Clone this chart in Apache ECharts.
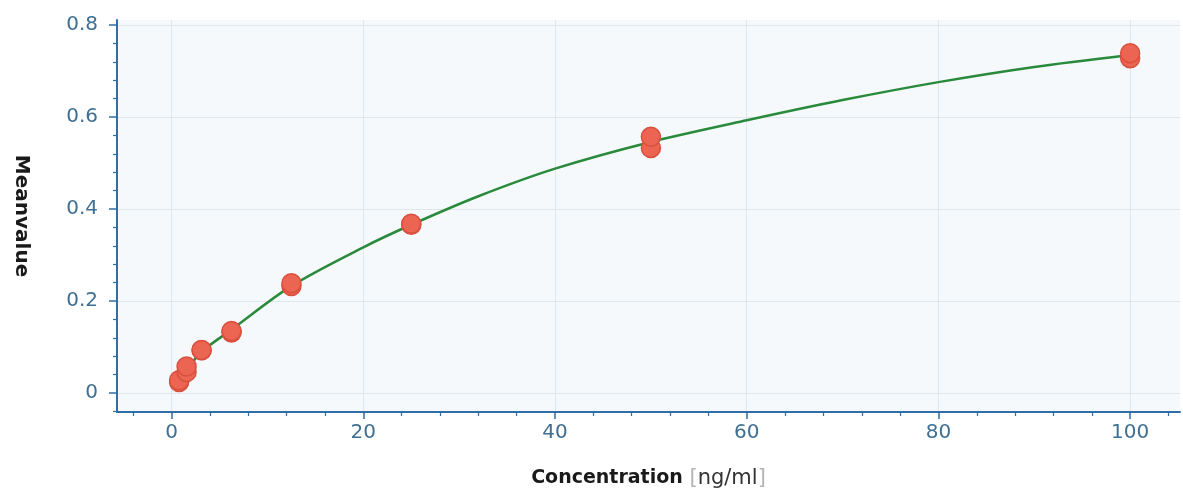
<!DOCTYPE html>
<html>
<head>
<meta charset="utf-8">
<script src="https://cdn.jsdelivr.net/npm/echarts@6/dist/echarts.min.js"></script>
<style>html,body{margin:0;padding:0;background:#fff}#c{width:1183px;height:491px}</style>
</head>
<body>
<div id="c"></div>
<script>
// Measured points (concentration ng/ml, mean value) - duplicates per standard
var pointConc = [0.78, 0.78, 1.56, 1.56, 3.125, 3.125, 6.25, 6.25, 12.5, 12.5, 25, 25, 50, 50, 100, 100];
var pointVals = [0.024, 0.028, 0.046, 0.058, 0.093, 0.094, 0.132, 0.135, 0.233, 0.239, 0.366, 0.368, 0.533, 0.557, 0.728, 0.739];
// Fitted curve
var curveConc = [0.78, 1.56, 3.125, 6.25, 12.5, 20, 25, 32, 40, 50, 60, 70, 80, 90, 100];
var curveVals = [0.028, 0.050, 0.090, 0.138, 0.233, 0.317, 0.366, 0.428, 0.488, 0.546, 0.593, 0.637, 0.676, 0.709, 0.735];
// Tick values
var xMajorTicks = [0, 20, 40, 60, 80, 100];
var xMinorTicks = [-4, 4, 8, 12, 16, 24, 28, 32, 36, 44, 48, 52, 56, 64, 68, 72, 76, 84, 88, 92, 96, 104];
var yMajorTicks = [0, 0.2, 0.4, 0.6, 0.8];
var yMinorTicks = [-0.04, 0.04, 0.08, 0.12, 0.16, 0.24, 0.28, 0.32, 0.36, 0.44, 0.48, 0.52, 0.56, 0.64, 0.68, 0.72, 0.76];

var xMin = -5.7, xMax = 105.2, yMin = -0.041, yMax = 0.811;
var axisColor = '#2f6ea6';
var labelColor = '#3f6f92';
var font = 'DejaVu Sans';

var pts = pointConc.map(function (c, i) { return [c, pointVals[i]]; });
var curve = curveConc.map(function (c, i) { return [c, curveVals[i]]; });

var chart = echarts.init(document.getElementById('c'), null, {renderer: 'canvas'});
chart.setOption({
  animation: false,
  backgroundColor: '#ffffff',
  grid: {left: 117, right: 3, top: 20, bottom: 79, show: true, backgroundColor: '#f6f9fb', borderWidth: 0,
    containLabel: false, outerBoundsMode: 'none'},
  xAxis: [{
    type: 'value', min: xMin, max: xMax,
    axisLine: {show: true, onZero: false, lineStyle: {color: axisColor, width: 2}},
    axisTick: {show: true, customValues: xMajorTicks, length: 7, lineStyle: {color: axisColor, width: 1.5}},
    axisLabel: {customValues: xMajorTicks, color: labelColor, fontFamily: font, fontSize: 20, margin: 11},
    splitLine: {show: true, lineStyle: {color: '#dfe7ed', width: 1}},
    name: '{b|Concentration}  {n|[}{u|ng/ml}{n|]}',
    nameLocation: 'middle', nameGap: 56,
    nameTextStyle: {
      rich: {
        b: {fontFamily: 'DejaVu Sans', fontWeight: 'bold', fontSize: 19, color: '#1a1a1a'},
        u: {fontFamily: 'DejaVu Sans', fontSize: 21, color: '#333333'},
        n: {fontFamily: 'DejaVu Sans', fontSize: 21, color: '#b5b5b5'}
      }
    }
  }, {
    type: 'value', min: xMin, max: xMax, position: 'bottom',
    axisLine: {show: false, onZero: false},
    axisTick: {show: true, customValues: xMinorTicks, length: 4, lineStyle: {color: axisColor, width: 1.2}},
    axisLabel: {show: false}, splitLine: {show: false}
  }],
  yAxis: [{
    type: 'value', min: yMin, max: yMax,
    axisLine: {show: true, onZero: false, lineStyle: {color: axisColor, width: 2}},
    axisTick: {show: true, customValues: yMajorTicks, length: 8, lineStyle: {color: axisColor, width: 1.5}},
    axisLabel: {customValues: yMajorTicks, color: labelColor, fontFamily: font, fontSize: 20, margin: 19,
      formatter: function (v) { return v === 0 ? '0' : String(Math.round(v * 10) / 10); }},
    splitLine: {show: true, lineStyle: {color: '#dfe7ed', width: 1}},
    name: 'Meanvalue', nameLocation: 'middle', nameGap: 86, nameRotate: -90,
    nameTextStyle: {fontFamily: 'DejaVu Sans', fontWeight: 'bold', fontSize: 20, color: '#1a1a1a'}
  }, {
    type: 'value', min: yMin, max: yMax, position: 'left',
    axisLine: {show: false, onZero: false},
    axisTick: {show: true, customValues: yMinorTicks, length: 4, lineStyle: {color: axisColor, width: 1.2}},
    axisLabel: {show: false}, splitLine: {show: false}
  }],
  series: [{
    type: 'line', data: curve, smooth: 0.3, showSymbol: false, symbol: 'none',
    lineStyle: {color: '#2a8a3c', width: 2.5}, z: 2
  }, {
    type: 'scatter', data: pts, symbolSize: 19,
    itemStyle: {color: '#ec6452', borderColor: '#d9503f', borderWidth: 1.5, opacity: 1}, z: 3
  }]
});
</script>
</body>
</html>
